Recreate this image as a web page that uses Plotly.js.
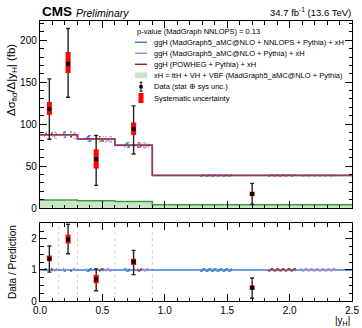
<!DOCTYPE html>
<html>
<head>
<meta charset="utf-8">
<script src="https://cdn.plot.ly/plotly-3.0.1.min.js"></script>
<style>html,body{margin:0;padding:0;background:#fff;}#chart{width:362px;height:328px;}</style>
</head>
<body>
<div id="chart"></div>
<script>
// ---- data ----
const binEdges = [0, 0.15, 0.3, 0.6, 0.9, 2.5];
const binCenters = [0.075, 0.225, 0.45, 0.75, 1.7];
const predNNLOPS = [87.5, 87.5, 82.5, 75.0, 39.0];
const predMG = [87.0, 87.0, 82.0, 74.5, 38.8];
const predPowheg = [87.3, 87.3, 82.3, 74.8, 38.9];
const xHbkg = [9.5, 9.5, 8.7, 7.9, 4.0];
const dataVals = [118, 172, 58, 94.4, 16.7];
const dataErrUp = [36, 42, 28.5, 27.4, 12.7];
const dataErrDn = [36, 40, 31, 30, 12.3];
const sysErrUp = [8.5, 14, 12, 7.6, 2.7];
const sysErrDn = [7, 11, 11, 7.4, 2.7];
const ratioVals = [1.36, 1.98, 0.70, 1.26, 0.43];
const ratioErrUp = [0.41, 0.49, 0.33, 0.37, 0.31];
const ratioErrDn = [0.43, 0.46, 0.37, 0.41, 0.34];
const ratioSysUp = [0.10, 0.16, 0.14, 0.10, 0.07];
const ratioSysDn = [0.08, 0.13, 0.13, 0.10, 0.07];
const theoRelUnc = [0.05, 0.05, 0.05, 0.05, 0.055];
const legendLabels = [
  "ggH (MadGraph5_aMC@NLO + NNLOPS + Pythia) + xH",
  "ggH (MadGraph5_aMC@NLO + Pythia) + xH",
  "ggH (POWHEG + Pythia) + xH",
  "xH = ttH + VH + VBF (MadGraph5_aMC@NLO + Pythia)",
  "Data (stat \u2295 sys unc.)",
  "Systematic uncertainty"
];
const pValueText = "p-value (MadGraph NNLOPS) = 0.13";

// ---- styles ----
const C_BLUE = "#3f7fcc", C_PURPLE = "#a98ad6", C_RED = "#a3282c";
const C_GREEN = "#3a9e3a", C_GREENFILL = "rgba(150,205,150,0.5)";
const FONT = "Liberation Sans, Arial, sans-serif";

function stepY(v){ return v.concat([v[v.length-1]]); }

const traces = [];
// xH background
traces.push({x: binEdges, y: stepY(xHbkg), type:"scatter", mode:"lines", line:{shape:"hv", color:C_GREEN, width:1.5},
  fill:"tozeroy", fillcolor:C_GREENFILL, hoverinfo:"skip", xaxis:"x", yaxis:"y"});
// predictions
[[predNNLOPS, C_BLUE],[predMG, C_PURPLE],[predPowheg, C_RED]].forEach(function(p){
  traces.push({x: binEdges, y: stepY(p[0]), type:"scatter", mode:"lines",
    line:{shape:"hv", color:p[1], width:1.5}, opacity: p[1]===C_RED?0.85:1, xaxis:"x", yaxis:"y"});
});

// hatched theory uncertainty boxes
const hatchDefs = [
  {pred: predNNLOPS, col: C_BLUE, shape: "/", f0: 0.24, f1: 0.40},
  {pred: predPowheg, col: C_RED, shape: "x", f0: 0.58, f1: 0.72},
  {pred: predMG, col: C_PURPLE, shape: "x", f0: 0.74, f1: 0.92}
];
hatchDefs.forEach(function(h){
  const xs=[], ws=[], bs=[], hs=[], bs2=[], hs2=[];
  for (let i=0;i<binCenters.length;i++){
    const lo=binEdges[i], wd=binEdges[i+1]-binEdges[i];
    xs.push(lo + wd*(h.f0+h.f1)/2); ws.push(wd*(h.f1-h.f0));
    const u = theoRelUnc[i];
    bs.push(h.pred[i]*(1-u)); hs.push(h.pred[i]*2*u);
    bs2.push(1-u*1.4); hs2.push(2*u*1.4);
  }
  const common = {type:"bar", x: xs, width: ws, hoverinfo:"skip",
    marker:{color:"rgba(0,0,0,0)", line:{width:0},
      pattern:{shape:h.shape, fgcolor:h.col, bgcolor:"rgba(0,0,0,0)", size:4, solidity:0.5}}};
  traces.push(Object.assign({}, common, {y: hs, base: bs, xaxis:"x", yaxis:"y"}));
  traces.push(Object.assign({}, common, {y: hs2, base: bs2, xaxis:"x2", yaxis:"y2"}));
});

function dataTraces(vals, eu, ed, su, sd, xa, ya){
  return [
    {x: binCenters, y: vals, type:"scatter", mode:"markers", marker:{size:1, color:"rgba(0,0,0,0)"},
      error_y:{type:"data", symmetric:false, array:eu, arrayminus:ed, color:"#222", thickness:1.4, width:2},
      xaxis:xa, yaxis:ya},
    {x: binCenters, y: vals, type:"scatter", mode:"markers", marker:{size:1, color:"rgba(0,0,0,0)"},
      error_y:{type:"data", symmetric:false, array:su, arrayminus:sd, color:"#ff0000", thickness:5, width:0},
      xaxis:xa, yaxis:ya},
    {x: binCenters, y: vals, type:"scatter", mode:"markers", marker:{size:4, symbol:"square", color:"#000"},
      xaxis:xa, yaxis:ya}
  ];
}
dataTraces(dataVals, dataErrUp, dataErrDn, sysErrUp, sysErrDn, "x", "y").forEach(t=>traces.push(t));
dataTraces(ratioVals, ratioErrUp, ratioErrDn, ratioSysUp, ratioSysDn, "x2", "y2").forEach(t=>traces.push(t));

// ---- layout helpers ----
const L=40, R=352, T=21, B=301;
const PX = px => (px-L)/(R-L);
const PY = py => (B-py)/(B-T);

const shapes = [];
const annotations = [];
// ratio reference line and bin-edge grid
shapes.push({type:"line", xref:"x2", yref:"y2", x0:binEdges[0], x1:binEdges[binEdges.length-1], y0:1, y1:1,
  line:{color:C_BLUE, width:1.5}, layer:"below"});
for (let i=1;i<binEdges.length-1;i++){
  shapes.push({type:"line", xref:"x2", yref:"y2 domain", x0:binEdges[i], x1:binEdges[i], y0:0, y1:1,
    line:{color:"#cfcfcf", width:1, dash:"dot"}, layer:"below"});
}

// legend
const rowsY = [42.3, 53.3, 64.3, 75.3, 86.7, 98];
const gx0 = 135, gx1 = 147, gxm = 141, tx = 152;
annotations.push({xref:"paper", yref:"paper", x:PX(gx0), y:PY(32), xanchor:"left", yanchor:"middle",
  text:pValueText, showarrow:false, font:{family:FONT, size:7.5, color:"#000"}});
[C_BLUE, C_PURPLE, C_RED].forEach(function(c,i){
  shapes.push({type:"line", xref:"paper", yref:"paper", x0:PX(gx0), x1:PX(gx1), y0:PY(rowsY[i]), y1:PY(rowsY[i]),
    line:{color:c, width:1.5}});
});
shapes.push({type:"rect", xref:"paper", yref:"paper", x0:PX(gx0), x1:PX(gx1), y0:PY(rowsY[3]+3), y1:PY(rowsY[3]-3),
  fillcolor:"rgba(150,205,150,0.5)", line:{width:0}});
// data glyph
shapes.push({type:"line", xref:"paper", yref:"paper", x0:PX(gxm), x1:PX(gxm), y0:PY(rowsY[4]+4.5), y1:PY(rowsY[4]-4.5), line:{color:"#000", width:1}});
shapes.push({type:"line", xref:"paper", yref:"paper", x0:PX(gxm-1.5), x1:PX(gxm+1.5), y0:PY(rowsY[4]+4.5), y1:PY(rowsY[4]+4.5), line:{color:"#000", width:1}});
shapes.push({type:"line", xref:"paper", yref:"paper", x0:PX(gxm-1.5), x1:PX(gxm+1.5), y0:PY(rowsY[4]-4.5), y1:PY(rowsY[4]-4.5), line:{color:"#000", width:1}});
shapes.push({type:"rect", xref:"paper", yref:"paper", x0:PX(gxm-1.7), x1:PX(gxm+1.7), y0:PY(rowsY[4]+1.7), y1:PY(rowsY[4]-1.7), fillcolor:"#000", line:{width:0}});
// systematic glyph
shapes.push({type:"rect", xref:"paper", yref:"paper", x0:PX(gxm-2.5), x1:PX(gxm+2.5), y0:PY(rowsY[5]+5), y1:PY(rowsY[5]-5), fillcolor:"#ff0000", line:{width:0}});
legendLabels.forEach(function(t,i){
  annotations.push({xref:"paper", yref:"paper", x:PX(tx), y:PY(rowsY[i]), xanchor:"left", yanchor:"middle",
    text:t, showarrow:false, font:{family:FONT, size:7.5, color:"#000"}});
});

// titles
annotations.push({xref:"paper", yref:"paper", x:PX(40), y:PY(12), xanchor:"left", yanchor:"middle", showarrow:false,
  text:"<b>CMS</b>", font:{family:FONT, size:13.5, color:"#000"}});
annotations.push({xref:"paper", yref:"paper", x:PX(74), y:PY(12.5), xanchor:"left", yanchor:"middle", showarrow:false,
  text:"<i>Preliminary</i>", font:{family:FONT, size:10.5, color:"#000"}});
annotations.push({xref:"paper", yref:"paper", x:PX(353), y:PY(12), xanchor:"right", yanchor:"middle", showarrow:false,
  text:"34.7 fb<sup>-1</sup> (13.6 TeV)", font:{family:FONT, size:9.5, color:"#000"}});
// axis titles
annotations.push({xref:"paper", yref:"paper", x:PX(12), y:PY(80), xanchor:"center", yanchor:"middle", showarrow:false, textangle:-90,
  text:"\u0394\u03c3<sub>fid</sub>/\u0394|y<sub>H</sub>| (fb)", font:{family:FONT, size:11.5, color:"#000"}});
annotations.push({xref:"paper", yref:"paper", x:PX(12), y:PY(262), xanchor:"center", yanchor:"middle", showarrow:false, textangle:-90,
  text:"Data / Prediction", font:{family:FONT, size:10, color:"#000"}});
annotations.push({xref:"paper", yref:"paper", x:PX(352), y:PY(321), xanchor:"right", yanchor:"middle", showarrow:false,
  text:"|y<sub>H</sub>|", font:{family:FONT, size:10, color:"#000"}});

const axisCommon = {showline:true, linecolor:"#000", linewidth:1.2, mirror:"allticks", ticks:"inside",
  tickcolor:"#000", tickwidth:1, showgrid:false, zeroline:false, tickfont:{family:FONT, size:10, color:"#000"}};

const layout = {
  width:362, height:328, margin:{l:L, r:362-R, t:T, b:328-B}, paper_bgcolor:"#fff", plot_bgcolor:"#fff",
  showlegend:false, barmode:"overlay", bargap:0,
  xaxis: Object.assign({}, axisCommon, {range:[0,2.5], domain:[0,1], anchor:"y", showticklabels:false,
    dtick:0.5, ticklen:7, minor:{dtick:0.1, ticks:"inside", ticklen:3.5, tickcolor:"#000"}}),
  yaxis: Object.assign({}, axisCommon, {range:[0,223], domain:[PY(208),1], anchor:"x",
    dtick:50, ticklen:7, minor:{dtick:10, ticks:"inside", ticklen:3.5, tickcolor:"#000"}}),
  xaxis2: Object.assign({}, axisCommon, {range:[0,2.5], domain:[0,1], anchor:"y2", matches:"x",
    dtick:0.5, tickformat:".1f", ticklen:7, minor:{dtick:0.1, ticks:"inside", ticklen:3.5, tickcolor:"#000"}}),
  yaxis2: Object.assign({}, axisCommon, {range:[0,2.5], domain:[0,PY(223.3)], anchor:"x2",
    dtick:1, ticklen:7, minor:{dtick:0.25, ticks:"inside", ticklen:3.5, tickcolor:"#000"}}),
  shapes: shapes, annotations: annotations
};

Plotly.newPlot("chart", traces, layout, {displayModeBar:false, staticPlot:true});
</script>
</body>
</html>
